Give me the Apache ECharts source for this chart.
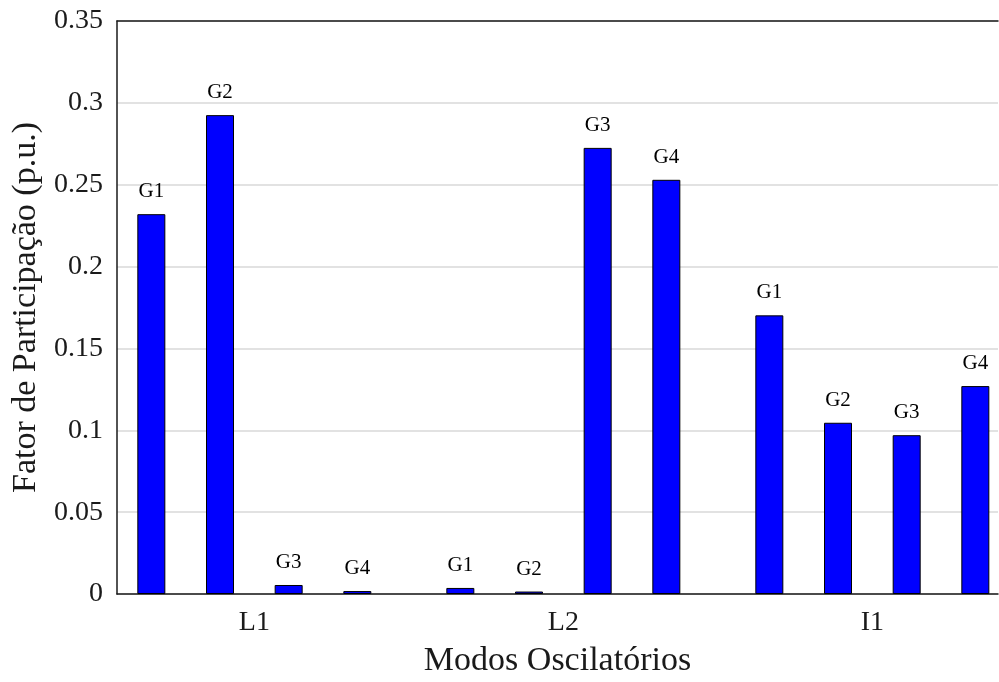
<!DOCTYPE html>
<html>
<head>
<meta charset="utf-8">
<script src="https://cdn.jsdelivr.net/npm/echarts@6/dist/echarts.min.js"></script>
<style>
  html, body { margin: 0; padding: 0; background: #fff; }
  #chart { width: 999px; height: 682px; }
</style>
</head>
<body>
<div id="chart"></div>
<script>
// Oscillation modes and the generators participating in each
const modes = ['L1', 'L2', 'I1'];
const generators = ['G1', 'G2', 'G3', 'G4'];

// Participation factor (p.u.) per generator, one array per mode
const factorL1 = [0.232, 0.2925, 0.0055, 0.0018];
const factorL2 = [0.0037, 0.0015, 0.2725, 0.253];
const factorI1 = [0.1702, 0.1046, 0.097, 0.127];

const yTicks = { min: 0, max: 0.35, step: 0.05 };

const factors = [factorL1, factorL2, factorI1];

// Slot layout along the x value axis: 4 bars per mode, modes separated by an extra half slot
const modeSpan = 4.5;
const barData = [];
const modeCenters = [];
modes.forEach(function (mode, m) {
  modeCenters.push(m * modeSpan + (generators.length - 1) / 2);
  generators.forEach(function (g, i) {
    barData.push({ name: g, value: [m * modeSpan + i, factors[m][i]] });
  });
});

const fontFamily = '"Liberation Serif", "DejaVu Serif", serif';
const textColor = '#1a1a1a';
const frameColor = '#1a1a1a';

const chart = echarts.init(document.getElementById('chart'), null, { renderer: 'canvas' });
chart.setOption({
  animation: false,
  backgroundColor: '#ffffff',
  grid: { left: 117, right: 1, top: 21, bottom: 88, containLabel: false, outerBoundsMode: 'none' },
  xAxis: [
    {
      type: 'value',
      min: -0.5,
      max: 12.33,
      name: 'Modos Oscilatórios',
      nameLocation: 'middle',
      nameGap: 50,
      nameTextStyle: { fontFamily: fontFamily, fontSize: 34, color: textColor },
      axisLine: { show: true, onZero: false, lineStyle: { color: frameColor, width: 1.5 } },
      axisTick: { show: false },
      splitLine: { show: false },
      axisLabel: {
        customValues: modeCenters,
        formatter: function (v) {
          const idx = modeCenters.indexOf(v);
          return idx >= 0 ? modes[idx] : '';
        },
        margin: 15,
        fontFamily: fontFamily,
        fontSize: 28,
        color: textColor
      }
    },
    {
      type: 'value',
      position: 'top',
      min: -0.5,
      max: 12.33,
      axisLine: { show: true, onZero: false, lineStyle: { color: frameColor, width: 1.5 } },
      axisTick: { show: false },
      axisLabel: { show: false },
      splitLine: { show: false }
    }
  ],
  yAxis: {
    type: 'value',
    min: yTicks.min,
    max: yTicks.max,
    interval: yTicks.step,
    name: 'Fator de Participação (p.u.)',
    nameLocation: 'middle',
    nameRotate: 90,
    nameGap: 74,
    nameTextStyle: { fontFamily: fontFamily, fontSize: 34, color: textColor },
    axisLine: { show: true, onZero: false, lineStyle: { color: frameColor, width: 1.5 } },
    axisTick: { show: false },
    axisLabel: { fontFamily: fontFamily, fontSize: 28, color: textColor, margin: 14 },
    splitLine: { show: true, lineStyle: { color: '#d9d9d9', width: 1.5 } }
  },
  series: [
    {
      type: 'bar',
      xAxisIndex: 0,
      barWidth: 28,
      data: barData,
      itemStyle: { color: '#0000ff', borderColor: '#000000', borderWidth: 1 },
      label: {
        show: true,
        position: 'top',
        distance: 12,
        formatter: '{b}',
        fontFamily: fontFamily,
        fontSize: 21,
        color: '#000000'
      }
    }
  ]
});
</script>
</body>
</html>
